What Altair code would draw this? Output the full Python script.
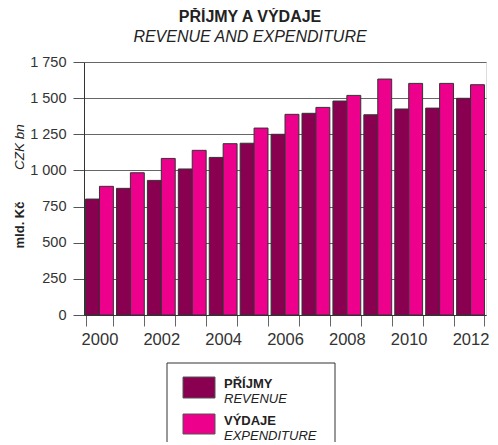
import altair as alt
import pandas as pd

years = list(range(2000, 2013))
revenue = [802, 876, 931, 1010, 1090, 1188, 1250, 1395, 1480, 1385, 1425, 1431, 1499]
expenditure = [890, 984, 1083, 1139, 1185, 1293, 1388, 1436, 1519, 1632, 1602, 1602, 1593]
series_names = ["PŘÍJMY", "VÝDAJE"]
series_en = ["REVENUE", "EXPENDITURE"]
colors = ["#8a0050", "#ec008c"]
y_ticks = [0, 250, 500, 750, 1000, 1250, 1500, 1750]
title_lines = ["PŘÍJMY A VÝDAJE", "REVENUE AND EXPENDITURE"]
y_titles = ["mld. Kč", "CZK bn"]

rows = []
for yr, r, e in zip(years, revenue, expenditure):
    rows.append({"year": yr, "series": series_names[0], "value": r})
    rows.append({"year": yr, "series": series_names[1], "value": e})
df = pd.DataFrame(rows)

W, H = 402, 253
FONT = "Liberation Sans"

bars = alt.Chart(df).mark_bar(stroke="#333333", strokeWidth=1).encode(
    x=alt.X(
        "year:O",
        scale=alt.Scale(paddingInner=0.1, paddingOuter=0.05),
        axis=alt.Axis(
            title=None, tickBand="extent", labelAngle=0,
            labelExpr="datum.value % 2 == 0 ? datum.label : ''",
            labelFontSize=16.5, labelColor="#333333", tickSize=11, tickColor="#666666",
            domainColor="#333333", labelPadding=5, grid=False, labelFont=FONT,
            labelFontWeight="normal",
        ),
    ),
    xOffset=alt.XOffset("series:N", sort=series_names),
    y=alt.Y(
        "value:Q",
        scale=alt.Scale(domain=[0, 1750], nice=False),
        axis=alt.Axis(
            title=None, values=y_ticks,
            labelExpr="replace(format(datum.value, ','), ',', ' ')",
            labelFontSize=14.5, labelColor="#333333", tickSize=11, tickColor="#555555",
            domainColor="#333333", labelPadding=7, grid=True, gridColor="#666666",
            gridWidth=1, labelFont=FONT,
        ),
    ),
    color=alt.Color("series:N", scale=alt.Scale(domain=series_names, range=colors), legend=None),
)

def text_layer(txt, x, y, size, weight="normal", style="normal", angle=0, align="center"):
    return alt.Chart(pd.DataFrame({"t": [txt]})).mark_text(
        font=FONT, fontSize=size, fontWeight=weight, fontStyle=style, angle=angle,
        align=align, baseline="alphabetic", color="#222222",
    ).encode(text="t:N", x=alt.value(x), y=alt.value(y))

title1 = text_layer(title_lines[0], 166, -40, 16, weight="bold")
title2 = text_layer(title_lines[1], 166, -20, 16, style="italic")
ytitle1 = text_layer(y_titles[0], -60, 163, 13, weight="bold", angle=270)
ytitle2 = text_layer(y_titles[1], -60, 85, 13.5, style="italic", angle=270)

legend_box = alt.Chart(pd.DataFrame({"a": [0]})).mark_rect(
    fill="white", stroke="#333333", strokeWidth=1
).encode(x=alt.value(83), x2=alt.value(251), y=alt.value(301), y2=alt.value(400))

sw_df = pd.DataFrame({"series": series_names, "y0": [315, 352], "y1": [336, 372]})
swatches = alt.Chart(sw_df).mark_rect(stroke="#555555", strokeWidth=1).encode(
    x=alt.value(99), x2=alt.value(131),
    y=alt.Y("y0:Q", scale=None), y2="y1:Q",
    color=alt.Color("series:N", scale=alt.Scale(domain=series_names, range=colors), legend=None),
)

leg1a = text_layer(series_names[0], 140, 326, 13, weight="bold", align="left")
leg1b = text_layer(series_en[0], 140, 341, 13, style="italic", align="left")
leg2a = text_layer(series_names[1], 140, 363, 13, weight="bold", align="left")
leg2b = text_layer(series_en[1], 140, 378, 13, style="italic", align="left")

chart = alt.layer(
    bars, title1, title2, ytitle1, ytitle2, legend_box, swatches, leg1a, leg1b, leg2a, leg2b
).properties(
    width=W, height=H,
    autosize=alt.AutoSizeParams(type="none"),
    padding={"left": 76, "top": 54, "right": 4, "bottom": 127},
).configure_view(
    fill="#fdeef4", stroke="#555555", strokeWidth=1
).configure(background="white")

chart.save("out.html", embed_options={"renderer": "svg", "actions": False})
